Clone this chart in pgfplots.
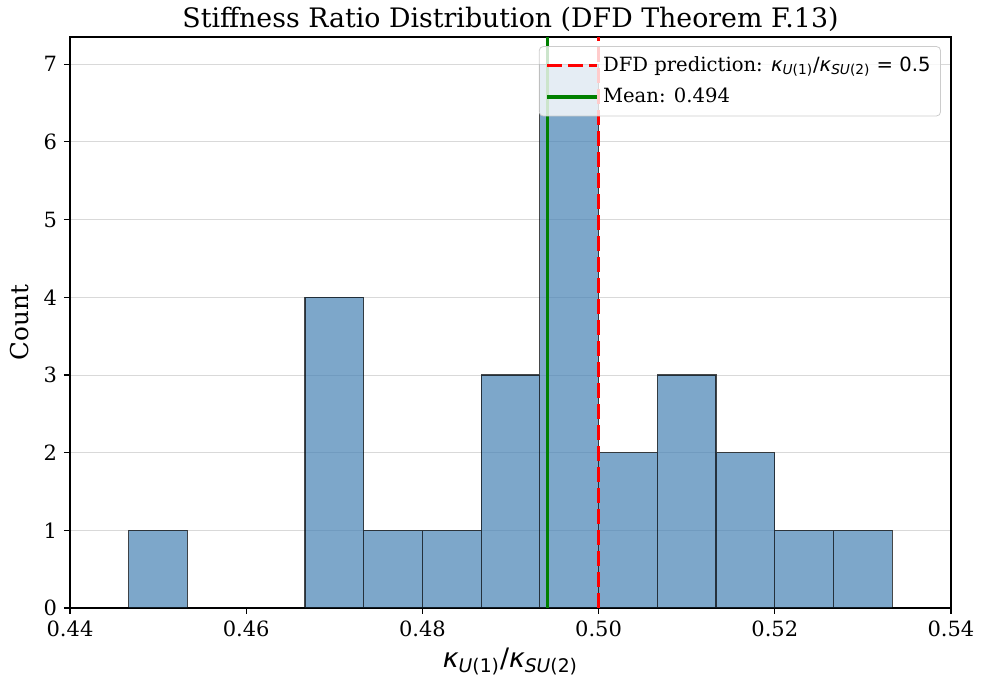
\documentclass[border=0pt]{standalone}
\usepackage{fontspec}
\setmainfont{DejaVu Serif}
\newfontfamily\dvs{DejaVu Sans}
\usepackage{pgfplots}
\pgfplotsset{compat=1.18}
\definecolor{steelblue}{HTML}{4682B4}
\definecolor{mplgreen}{HTML}{008000}
\newcommand{\kratio}{{\dvs\textit{κ}\textsubscript{\textit{U}(1)}/\textit{κ}\textsubscript{\textit{SU}(2)}}}
\begin{document}
\begin{tikzpicture}
\begin{axis}[
  name=ax,
  scale only axis,
  width=440.5pt, height=285.5pt,
  xmin=0.44, xmax=0.54, ymin=0, ymax=7.35,
  xtick={0.44,0.46,0.48,0.50,0.52,0.54},
  ytick={0,1,2,3,4,5,6,7},
  xticklabel style={/pgf/number format/.cd, fixed, fixed zerofill, precision=2},
  /pgf/number format/assume math mode=true,
  tick label style={font=\fontsize{10.5}{12}\selectfont},
  tick align=outside, major tick length=3pt,
  tick style={black, line width=0.6pt},
  xtick pos=bottom, ytick pos=left,
  axis line style={line width=0.9pt},
  ymajorgrids, grid style={gray!30, line width=0.4pt},
  title={Stiffness Ratio Distribution (DFD Theorem F.13)},
  every axis title/.style={font=\fontsize{13.4}{15}\selectfont, at={(0.5,1)}, anchor=base, inner sep=0pt, yshift=4.5pt},
  xlabel={\kratio},
  xlabel style={font=\fontsize{13.4}{15}\selectfont, at={(axis description cs:0.5,-0.1051)}, anchor=base, inner sep=0pt},
  ylabel={Count},
  ylabel style={font=\fontsize{12.3}{14}\selectfont, at={(axis description cs:-0.0568,0.5)}, anchor=center, inner sep=0pt},
  legend style={at={(axis description cs:0.9886,0.984)}, anchor=north east,
    font=\fontsize{9.8}{11.5}\selectfont, fill=white, fill opacity=0.8, text opacity=1,
    draw=gray!40, rounded corners=2pt, row sep=3pt, inner xsep=3pt, inner ysep=3pt},
  legend cell align=left,
  legend image code/.code={\draw[#1] (0pt,0pt) -- (25pt,0pt);},
]
\addplot[ybar interval, fill=steelblue, fill opacity=0.7, draw=black, draw opacity=0.7, line width=0.6pt, forget plot]
  coordinates {
  (0.446667,1) (0.453333,0) (0.460000,0) (0.466667,4) (0.473333,1)
  (0.480000,1) (0.486667,3) (0.493333,7) (0.500000,2) (0.506667,3)
  (0.513333,2) (0.520000,1) (0.526667,1) (0.533333,1)};
\addplot[red, line width=1.9pt, dash pattern=on 7.5pt off 3pt] coordinates {(0.5,0) (0.5,7.35)};
\addlegendentry{DFD prediction: \kratio{\dvs\ = 0.5}}
\addplot[mplgreen, line width=1.9pt] coordinates {(0.4942,0) (0.4942,7.35)};
\addlegendentry{Mean: 0.494}
\end{axis}
\path ([shift={(-35pt,-37pt)}]ax.south west) rectangle ([shift={(15pt,18.5pt)}]ax.north east);
\end{tikzpicture}
\end{document}
